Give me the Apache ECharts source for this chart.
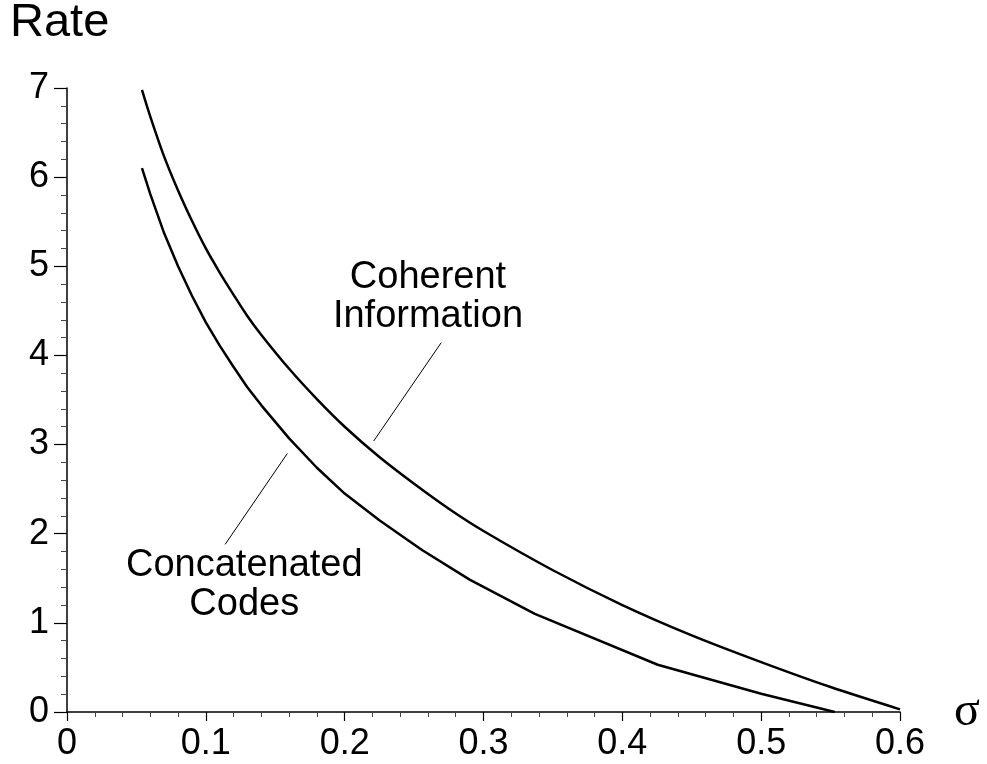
<!DOCTYPE html>
<html>
<head>
<meta charset="utf-8">
<script src="https://cdn.jsdelivr.net/npm/echarts@6/dist/echarts.min.js"></script>
<style>
  html, body { margin: 0; padding: 0; background: #fff; }
  #chart { width: 987px; height: 764px; }
</style>
</head>
<body>
<div id="chart"></div>
<script>
// Noise level sigma and achievable rate for the two curves
const coherentSigma = [0.054, 0.06, 0.07, 0.08, 0.09, 0.10, 0.11, 0.12, 0.13, 0.14, 0.16, 0.18, 0.20, 0.225, 0.25, 0.275, 0.30, 0.35, 0.40, 0.45, 0.50, 0.55, 0.60];
const coherentRate  = [6.98, 6.68, 6.23, 5.85, 5.51, 5.20, 4.93, 4.68, 4.44, 4.23, 3.85, 3.51, 3.20, 2.86, 2.56, 2.28, 2.03, 1.59, 1.20, 0.86, 0.56, 0.28, 0.03];

const concatSigma = [0.054, 0.06, 0.07, 0.08, 0.09, 0.10, 0.11, 0.12, 0.13, 0.14, 0.16, 0.18, 0.20, 0.225, 0.25, 0.256, 0.290, 0.337, 0.4255, 0.50, 0.553];
const concatRate  = [6.10, 5.81, 5.37, 5.00, 4.67, 4.37, 4.11, 3.87, 3.64, 3.44, 3.07, 2.74, 2.45, 2.15, 1.88, 1.815, 1.485, 1.10, 0.53, 0.204, 0.0];

// Callout text and leader lines (in data coordinates)
const coherentLabel = ['Coherent', 'Information'];
const coherentLabelAt = [0.26, 4.65];
const coherentLeader = [[0.2209, 3.04], [0.2696, 4.144]];

const concatLabel = ['Concatenated', 'Codes'];
const concatLabelAt = [0.1277, 1.42];
const concatLeader = [[0.1587, 2.90], [0.1139, 1.88]];

const xTicks = { min: 0, max: 0.6, interval: 0.1 };
const yTicks = { min: 0, max: 7, interval: 1 };

const font = 'Liberation Sans, Arial, Helvetica, sans-serif';

const zip = (xs, ys) => xs.map((x, i) => [x, ys[i]]);

const chart = echarts.init(document.getElementById('chart'), null, { renderer: 'canvas' });

const curveStyle = { color: '#000', width: 2.5 };
const leaderStyle = { color: '#000', width: 1 };

chart.setOption({
  animation: false,
  backgroundColor: '#fff',
  title: {
    text: 'Rate',
    left: 10,
    top: 0,
    padding: 0,
    textStyle: { fontFamily: font, fontSize: 47, fontWeight: 'normal', color: '#000' }
  },
  grid: { left: 67, right: 87, top: 88, bottom: 52 },
  xAxis: {
    type: 'value',
    min: xTicks.min, max: xTicks.max, interval: xTicks.interval,
    name: 'σ',
    nameLocation: 'end',
    nameGap: 54,
    nameTextStyle: { fontFamily: 'Liberation Serif, DejaVu Serif, serif', fontSize: 48, color: '#000', align: 'left' },
    axisLine: { show: true, lineStyle: { color: '#000', width: 1.5 } },
    axisTick: { show: true, length: 9, lineStyle: { color: '#000', width: 1.2 } },
    minorTick: { show: true, splitNumber: 5, length: 5, lineStyle: { color: '#444', width: 1 } },
    splitLine: { show: false },
    axisLabel: { fontFamily: font, fontSize: 36, color: '#000', margin: 14 }
  },
  yAxis: {
    type: 'value',
    min: yTicks.min, max: yTicks.max, interval: yTicks.interval,
    axisLine: { show: true, lineStyle: { color: '#000', width: 1.5 } },
    axisTick: { show: true, length: 13, lineStyle: { color: '#000', width: 1.2 } },
    minorTick: { show: true, splitNumber: 5, length: 6, lineStyle: { color: '#444', width: 1 } },
    splitLine: { show: false },
    axisLabel: { fontFamily: font, fontSize: 36, color: '#000', margin: 18 }
  },
  series: [
    {
      name: 'Coherent Information',
      type: 'line',
      data: zip(coherentSigma, coherentRate),
      smooth: 0.3,
      showSymbol: false,
      lineStyle: curveStyle,
      silent: true
    },
    {
      name: 'Concatenated Codes',
      type: 'line',
      data: zip(concatSigma, concatRate),
      smooth: false,
      showSymbol: false,
      lineStyle: curveStyle,
      silent: true
    },
    {
      type: 'line', data: coherentLeader, showSymbol: false,
      lineStyle: leaderStyle, silent: true
    },
    {
      type: 'line', data: concatLeader, showSymbol: false,
      lineStyle: leaderStyle, silent: true
    }
  ]
});

// Callout captions placed at their data positions
function caption(lines, at) {
  const p = chart.convertToPixel({ gridIndex: 0 }, at);
  return {
    type: 'text',
    x: p[0],
    y: p[1],
    silent: true,
    style: {
      text: lines.join('\n'),
      fill: '#000',
      font: '38px ' + font,
      lineHeight: 39,
      align: 'center',
      verticalAlign: 'middle'
    }
  };
}

chart.setOption({
  graphic: [caption(coherentLabel, coherentLabelAt), caption(concatLabel, concatLabelAt)]
});
</script>
</body>
</html>
